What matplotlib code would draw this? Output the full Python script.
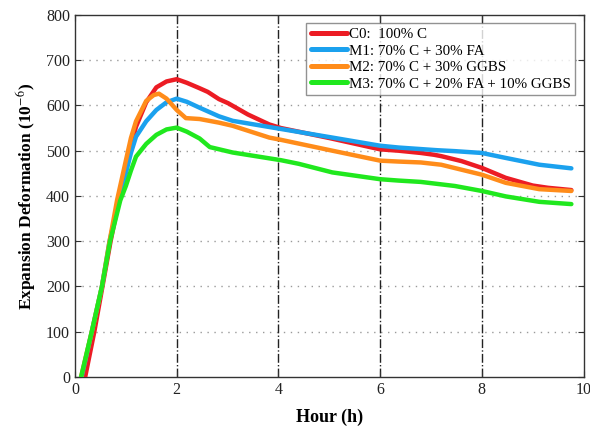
import matplotlib
matplotlib.use("Agg")
import matplotlib.pyplot as plt

plt.rcParams['font.family'] = ['Liberation Serif', 'DejaVu Serif']
plt.rcParams['mathtext.fontset'] = 'stix'

labels = ["C0:  100% C", "M1: 70% C + 30% FA", "M2: 70% C + 30% GGBS",
          "M3: 70% C + 20% FA + 10% GGBS"]
colors = ["#ec1c24", "#1ba1ee", "#ff8c1a", "#20e81e"]

c0_h = [0.2, 0.38, 0.54, 0.7, 0.88, 1.0, 1.1, 1.2, 1.4, 1.6, 1.8, 2.0, 2.2, 2.45, 2.61, 2.83, 3.01, 3.4,
        3.82, 4.05, 5.0, 6.0, 6.36, 6.8, 7.06, 7.2, 7.6, 8.0, 8.47, 9.0, 9.3, 9.76]
c0_v = [0, 100, 200, 300, 400, 465, 512, 553, 607, 640, 653, 658, 650, 638, 630, 614, 605, 580,
        558, 550, 528, 503, 500, 495, 491, 488, 477, 462, 440, 423, 418, 413]

m1_h = [0.13, 0.33, 0.53, 0.68, 0.87, 1.0, 1.1, 1.2, 1.4, 1.6, 1.8, 2.0, 2.2, 2.45, 2.83, 3.1, 4.05,
        5.06, 6.0, 6.36, 7.13, 7.47, 8.0, 8.47, 9.13, 9.76]
m1_v = [0, 100, 200, 300, 392, 450, 495, 531, 565, 590, 607, 615, 608, 595, 576, 566, 548,
        529, 511, 507, 501, 499, 495, 484, 469, 461]

m2_h = [0.12, 0.33, 0.53, 0.68, 0.83, 1.0, 1.1, 1.2, 1.4, 1.55, 1.65, 1.8, 2.0, 2.18, 2.45, 2.83,
        3.1, 3.82, 4.05, 5.06, 6.0, 6.36, 6.8, 7.2, 7.6, 8.0, 8.47, 9.13, 9.76]
m2_v = [0, 100, 200, 300, 392, 478, 528, 565, 610, 623, 626, 615, 590, 572, 570, 562,
        555, 529, 524, 500, 478, 476, 474, 469, 458, 447, 429, 415, 411]

m3_h = [0.12, 0.33, 0.53, 0.69, 0.89, 1.0, 1.1, 1.2, 1.4, 1.6, 1.8, 2.0, 2.2, 2.45, 2.65, 3.1, 4.05,
        4.4, 5.06, 6.0, 6.36, 6.8, 7.47, 8.0, 8.47, 9.13, 9.76]
m3_v = [0, 100, 200, 300, 390, 422, 456, 487, 515, 535, 547, 551, 542, 527, 508, 496, 479,
        471, 452, 437, 434, 431, 422, 411, 399, 387, 382]

series = [(c0_h, c0_v), (m1_h, m1_v), (m2_h, m2_v), (m3_h, m3_v)]

fig = plt.figure(figsize=(5.9, 4.3), dpi=100)
ax = fig.add_axes([0.1271, 0.1233, 0.862, 0.842])

for y in range(100, 800, 100):
    ax.axhline(y, color="#9a9a9a", linestyle=(0, (1, 4)), linewidth=1.0, zorder=1)
for x in [2, 4, 6, 8]:
    ax.axvline(x, color="#222222", linestyle="-.", linewidth=1.0, zorder=1)

for (h, v), c, lab in zip(series, colors, labels):
    ax.plot(h, v, color=c, linewidth=3.2, label=lab, solid_capstyle="round",
            solid_joinstyle="round", zorder=3)

ax.set_xlim(0, 10)
ax.set_ylim(0, 800)
ax.set_xticks([0, 2, 4, 6, 8, 10])
ax.set_yticks(range(0, 900, 100))
ax.tick_params(direction="in", top=True, right=True, labelsize=11.5, length=4,
               colors="#333333", labelcolor="#222222")
for s in ax.spines.values():
    s.set_color("#333333")
    s.set_linewidth(1.0)

ax.set_xlabel("Hour (h)", fontsize=13, fontweight="bold", labelpad=8)
ax.set_ylabel("Expansion Deformation (10$^{-6}$)", fontsize=12.5, fontweight="bold", labelpad=6)

leg = ax.legend(loc="upper right", fontsize=10.8, frameon=True, fancybox=False,
                borderpad=0.3, labelspacing=0.2, handlelength=2.4, handletextpad=0.15,
                borderaxespad=0.55)
leg.get_frame().set_edgecolor("#777777")
leg.get_frame().set_linewidth(1.0)
for line in leg.get_lines():
    line.set_linewidth(3.6)

fig.savefig("out.png", dpi=100)
